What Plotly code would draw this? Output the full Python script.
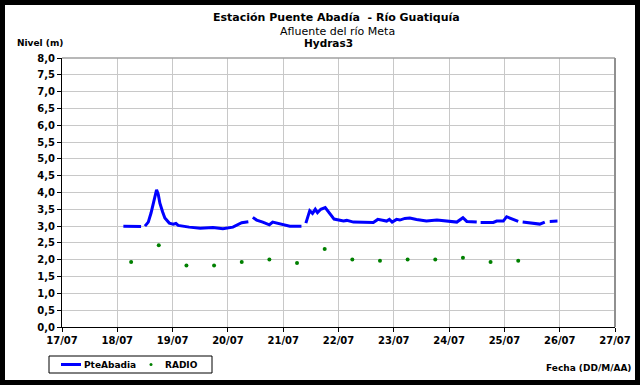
import pandas as pd
import plotly.graph_objects as go

# ---------------- data ----------------
base_date = "2009-07-17"
# fractional days since 17/07 00:00 ; None = gap in record
nivel_dias = [1.11, 1.30, 1.43, None,
              1.50, 1.56, 1.61, 1.67, 1.71, 1.74, 1.77, 1.82, 1.86, 1.94, 2.01, 2.06, 2.10,
              2.30, 2.50, 2.73, 2.91, 3.09, 3.25, 3.37, None,
              3.45, 3.52, 3.63, 3.75, 3.81, 3.94, 4.12, 4.33, None,
              4.41, 4.48, 4.53, 4.58, 4.62, 4.68, 4.76, 4.82, 4.92, 5.09, 5.15, 5.27, 5.45,
              5.63, 5.71, 5.81, 5.87, 5.92, 5.97, 6.05, 6.11, 6.20, 6.29, 6.41, 6.59, 6.78,
              6.99, 7.14, 7.25, 7.32, 7.50, None,
              7.57, 7.80, 7.86, 7.98, 8.04, 8.13, 8.25, None,
              8.33, 8.46, 8.64, 8.73, None,
              8.82, 8.96]
nivel_m = [3.00, 2.99, 2.99, None,
           3.00, 3.12, 3.39, 3.85, 4.08, 3.95, 3.68, 3.42, 3.24, 3.09, 3.06, 3.08, 3.02,
           2.97, 2.94, 2.96, 2.92, 2.97, 3.10, 3.13, None,
           3.26, 3.18, 3.12, 3.04, 3.12, 3.06, 3.00, 3.00, None,
           3.09, 3.46, 3.38, 3.50, 3.40, 3.50, 3.55, 3.43, 3.21, 3.15, 3.17, 3.12, 3.12,
           3.11, 3.20, 3.16, 3.15, 3.20, 3.12, 3.20, 3.18, 3.23, 3.24, 3.20, 3.15, 3.18,
           3.15, 3.12, 3.25, 3.14, 3.12, None,
           3.11, 3.11, 3.15, 3.15, 3.28, 3.21, 3.14, None,
           3.12, 3.09, 3.06, 3.12, None,
           3.14, 3.15]

radio_fechas = ["2009-07-18 06:00", "2009-07-18 18:00", "2009-07-19 06:00", "2009-07-19 18:00",
                "2009-07-20 06:00", "2009-07-20 18:00", "2009-07-21 06:00", "2009-07-21 18:00",
                "2009-07-22 06:00", "2009-07-22 18:00", "2009-07-23 06:00", "2009-07-23 18:00",
                "2009-07-24 06:00", "2009-07-24 18:00", "2009-07-25 06:00"]
radio_m = [1.93, 2.43, 1.83, 1.83, 1.93, 2.01, 1.90, 2.32, 2.01, 1.97, 2.01, 2.01, 2.06, 1.93, 1.97]

x_ticks = ["2009-07-17", "2009-07-18", "2009-07-19", "2009-07-20", "2009-07-21", "2009-07-22",
           "2009-07-23", "2009-07-24", "2009-07-25", "2009-07-26", "2009-07-27"]
x_labels = ["17/07", "18/07", "19/07", "20/07", "21/07", "22/07", "23/07", "24/07", "25/07", "26/07", "27/07"]
y_ticks = [0.0, 0.5, 1.0, 1.5, 2.0, 2.5, 3.0, 3.5, 4.0, 4.5, 5.0, 5.5, 6.0, 6.5, 7.0, 7.5, 8.0]
y_labels = ["0,0", "0,5", "1,0", "1,5", "2,0", "2,5", "3,0", "3,5", "4,0", "4,5", "5,0", "5,5",
            "6,0", "6,5", "7,0", "7,5", "8,0"]
series_names = ["PteAbadia", "RADIO"]

# ---------------- figure ----------------
base = pd.Timestamp(base_date)
nivel_x = [None if d is None else base + pd.Timedelta(days=d) for d in nivel_dias]

W, H = 640, 385
L, R, T, B = 62, 615, 58, 327  # plot area in px
def fx(px):
    return (px - L) / (R - L)
def fy(py):
    return (B - py) / (B - T)

FONT = "DejaVu Sans"
BLUE = "#0000ff"
GREEN = "#008000"

fig = go.Figure()
fig.add_trace(go.Scatter(x=nivel_x, y=nivel_m, mode="lines", name=series_names[0],
                         line=dict(color=BLUE, width=3), connectgaps=False))
fig.add_trace(go.Scatter(x=radio_fechas, y=radio_m, mode="markers", name=series_names[1],
                         marker=dict(color=GREEN, size=4)))

fig.update_layout(
    width=W, height=H,
    margin=dict(l=L, r=W - R, t=T, b=H - B, autoexpand=False),
    paper_bgcolor="white", plot_bgcolor="white",
    font=dict(family=FONT, size=10, color="black"),
    showlegend=False,
)
fig.update_xaxes(type="date", range=[x_ticks[0], x_ticks[-1]],
                 tickvals=x_ticks, ticktext=x_labels,
                 showgrid=True, gridcolor="#c8c8c8", gridwidth=1,
                 showline=True, linecolor="black", linewidth=1,
                 ticks="outside", ticklen=4, tickcolor="black",
                 tickfont=dict(family=FONT, size=10, weight="bold"), zeroline=False)
fig.update_yaxes(range=[0, 8], tickvals=y_ticks, ticktext=y_labels,
                 showgrid=True, gridcolor="#c8c8c8", gridwidth=1,
                 showline=True, linecolor="black", linewidth=1,
                 ticks="outside", ticklen=4, tickcolor="black",
                 tickfont=dict(family=FONT, size=10, weight="bold"), zeroline=False)

# plot area top / right border (grey)
fig.add_shape(type="line", xref="paper", yref="paper", x0=0, x1=1, y0=1, y1=1,
              line=dict(color="#a0a0a0", width=1.5))
fig.add_shape(type="line", xref="paper", yref="paper", x0=1, x1=1, y0=0, y1=1,
              line=dict(color="#909090", width=2))
# outer black frame
fig.add_shape(type="rect", xref="paper", yref="paper",
              x0=fx(2.5), x1=fx(637.5), y0=fy(382.5), y1=fy(2.5),
              line=dict(color="black", width=5))

# legend box (drawn by hand to match the original layout)
fig.add_shape(type="rect", xref="paper", yref="paper",
              x0=fx(49), x1=fx(212), y0=fy(373), y1=fy(356),
              line=dict(color="black", width=1), fillcolor="white")
fig.add_shape(type="line", xref="paper", yref="paper",
              x0=fx(61), x1=fx(81), y0=fy(364.5), y1=fy(364.5),
              line=dict(color=BLUE, width=3))
fig.add_shape(type="circle", xref="paper", yref="paper",
              x0=fx(149.5), x1=fx(152.5), y0=fy(366), y1=fy(363),
              line=dict(color=GREEN, width=0), fillcolor=GREEN)
fig.add_annotation(text="<b>" + series_names[0] + "</b>", x=fx(82), y=fy(364.5),
                   xref="paper", yref="paper", xanchor="left", yanchor="middle", showarrow=False,
                   font=dict(family=FONT, size=9, color="black"))
fig.add_annotation(text="<b>" + series_names[1] + "</b>", x=fx(163), y=fy(364.5),
                   xref="paper", yref="paper", xanchor="left", yanchor="middle", showarrow=False,
                   font=dict(family=FONT, size=9, color="black"))

anns = [
    dict(text="<b>Estación Puente Abadía  - Río Guatiquía</b>", x=fx(336), y=fy(17), size=11),
    dict(text="Afluente del río Meta", x=fx(337), y=fy(31), size=11),
    dict(text="<b>Hydras3</b>", x=fx(328), y=fy(43), size=10.5),
    dict(text="<b>Nivel (m)</b>", x=fx(40), y=fy(43), size=9),
]
for a in anns:
    fig.add_annotation(text=a["text"], x=a["x"], y=a["y"], xref="paper", yref="paper",
                       xanchor="center", yanchor="middle", showarrow=False,
                       font=dict(family=FONT, size=a["size"], color="black"))
fig.add_annotation(text="<b>Fecha (DD/M/AA)</b>", x=fx(633), y=fy(368), xref="paper", yref="paper",
                   xanchor="right", yanchor="middle", showarrow=False,
                   font=dict(family=FONT, size=9, color="black"))

fig.write_html("out.html", config={"displayModeBar": False},
               post_script="document.body.style.margin='0';document.body.style.padding='0';"
                           "document.documentElement.style.overflow='hidden';")
